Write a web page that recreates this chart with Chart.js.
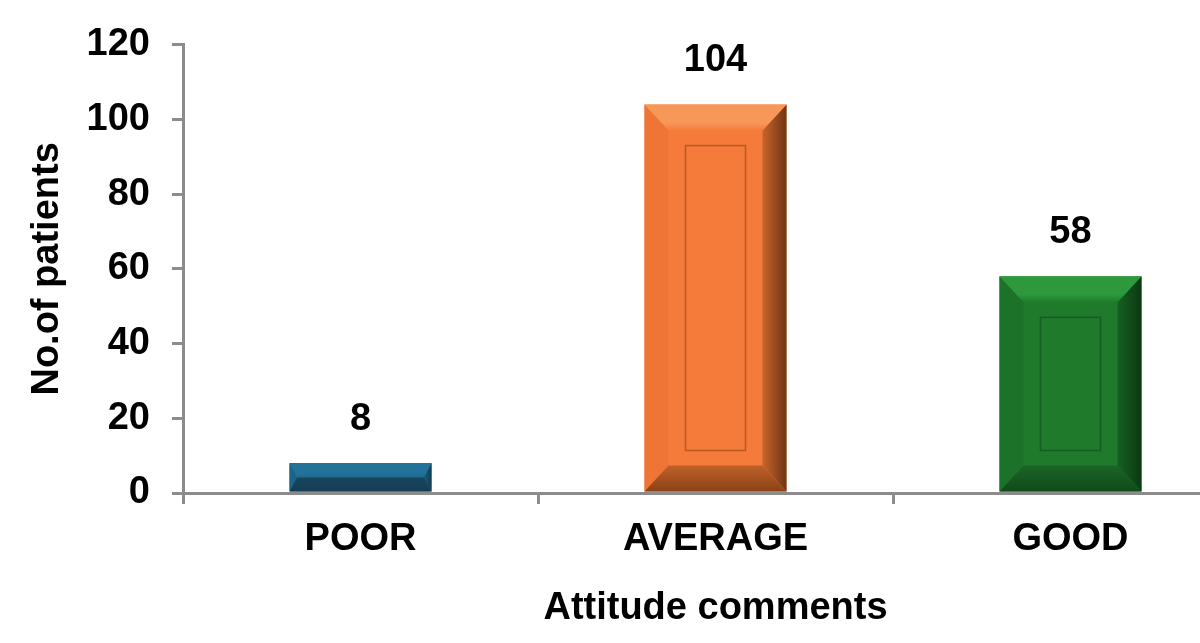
<!DOCTYPE html>
<html>
<head>
<meta charset="utf-8">
<script src="https://cdn.jsdelivr.net/npm/chart.js@4.4.0/dist/chart.umd.min.js"></script>
<style>
  body { margin: 0; background: #fff; overflow: hidden; }
</style>
</head>
<body>
<canvas id="chart" width="1250" height="643"></canvas>
<script>
// data
const categories = ['POOR', 'AVERAGE', 'GOOD'];
const patients = [8, 104, 58];
const yTicks = [0, 20, 40, 60, 80, 100, 120];

// bevel colours per bar: face, top, left, right (inner, outer), bottom (inner, outer), inner frame line
const barColors = [
  { face: '#1f6b8f', top: '#23729a', left: '#1c6488', right: ['#1b5d7e', '#123c52'], bottom: ['#17465f', '#153d52'], line: '#164a63' },
  { face: '#f47b3a', top: '#f79859', left: '#ee7535', right: ['#c9642b', '#6e3513'], bottom: ['#c0612a', '#8a4216'], line: '#b85a24' },
  { face: '#1f7a2c', top: '#2e983c', left: '#1d7229', right: ['#175f22', '#0b3a12'], bottom: ['#1a6526', '#114a1a'], line: '#155d20' }
];

const axisGrey = '#8c8c8c';
const fontFamily = '"Liberation Sans", Arial, Helvetica, sans-serif';

function poly(ctx, pts, fill) {
  ctx.beginPath();
  ctx.moveTo(pts[0][0], pts[0][1]);
  for (let i = 1; i < pts.length; i++) ctx.lineTo(pts[i][0], pts[i][1]);
  ctx.closePath();
  ctx.fillStyle = fill;
  ctx.fill();
}

// draws the bevelled bars and the value labels on top of them
const bevelBars = {
  id: 'bevelBars',
  afterDatasetsDraw(chart) {
    const ctx = chart.ctx;
    const meta = chart.getDatasetMeta(0);
    meta.data.forEach((bar, i) => {
      const c = barColors[i];
      const p = bar.getProps(['x', 'y', 'base', 'width'], true);
      const x0 = p.x - p.width / 2, x1 = p.x + p.width / 2;
      const y0 = p.y, y1 = p.base;
      const h = y1 - y0;
      const bx = Math.min(24, h * 0.27);
      const by = Math.min(26, h * 0.5);

      ctx.save();
      ctx.fillStyle = c.face;
      ctx.fillRect(x0, y0, x1 - x0, h);

      poly(ctx, [[x0, y0], [x0 + bx, y0 + by], [x0 + bx, y1 - by], [x0, y1]], c.left);

      const gr = ctx.createLinearGradient(x1 - bx, 0, x1, 0);
      gr.addColorStop(0, c.right[0]);
      gr.addColorStop(1, c.right[1]);
      poly(ctx, [[x1, y0], [x1, y1], [x1 - bx, y1 - by], [x1 - bx, y0 + by]], gr);

      const gb = ctx.createLinearGradient(0, y1 - by, 0, y1);
      gb.addColorStop(0, c.bottom[0]);
      gb.addColorStop(1, c.bottom[1]);
      poly(ctx, [[x0, y1], [x1, y1], [x1 - bx, y1 - by], [x0 + bx, y1 - by]], gb);

      const gt = ctx.createLinearGradient(0, y0, 0, y0 + by);
      gt.addColorStop(0, c.top);
      gt.addColorStop(0.7, c.top);
      gt.addColorStop(1, c.face);
      poly(ctx, [[x0, y0], [x1, y0], [x1 - bx, y0 + by], [x0 + bx, y0 + by]], gt);

      // inner panel
      if (h > 120) {
        const inset = 41;
        ctx.strokeStyle = c.line;
        ctx.lineWidth = 1.5;
        ctx.strokeRect(x0 + inset, y0 + inset, x1 - x0 - 2 * inset, h - 2 * inset);
      }

      // value label
      ctx.fillStyle = '#000';
      ctx.font = 'bold 38px ' + fontFamily;
      ctx.textAlign = 'center';
      ctx.textBaseline = 'middle';
      ctx.fillText(String(patients[i]), p.x, y0 - 44);
      ctx.restore();
    });
  }
};

new Chart(document.getElementById('chart'), {
  type: 'bar',
  data: {
    labels: categories,
    datasets: [{
      data: patients,
      backgroundColor: 'rgba(0,0,0,0)',
      borderWidth: 0,
      barPercentage: 0.4,
      categoryPercentage: 1
    }]
  },
  options: {
    responsive: false,
    animation: false,
    events: [],
    layout: { padding: { top: 43, right: 2, bottom: 0, left: 0 } },
    plugins: {
      legend: { display: false },
      tooltip: { enabled: false }
    },
    scales: {
      y: {
        min: 0,
        max: 120,
        afterFit(scale) { scale.width = 183; },
        afterBuildTicks(scale) { scale.ticks = yTicks.map(v => ({ value: v })); },
        border: { color: axisGrey, width: 3 },
        grid: { drawOnChartArea: false, drawTicks: true, tickLength: 11, color: axisGrey, lineWidth: 3 },
        ticks: { color: '#000', padding: 22, font: { family: fontFamily, size: 38, weight: 'bold' } },
        title: {
          display: true,
          text: 'No.of patients',
          color: '#000',
          padding: { top: 25, bottom: 0 },
          font: { family: fontFamily, size: 38, weight: 'bold' }
        }
      },
      x: {
        afterFit(scale) { scale.height = 150; },
        border: { color: axisGrey, width: 3 },
        grid: { drawOnChartArea: false, drawTicks: true, tickLength: 11, color: axisGrey, lineWidth: 3 },
        ticks: { color: '#000', padding: 13, font: { family: fontFamily, size: 38, weight: 'bold' } },
        title: {
          display: true,
          text: 'Attitude comments',
          color: '#000',
          padding: { top: 0, bottom: 12 },
          font: { family: fontFamily, size: 38, weight: 'bold' }
        }
      }
    }
  },
  plugins: [bevelBars]
});
</script>
</body>
</html>
